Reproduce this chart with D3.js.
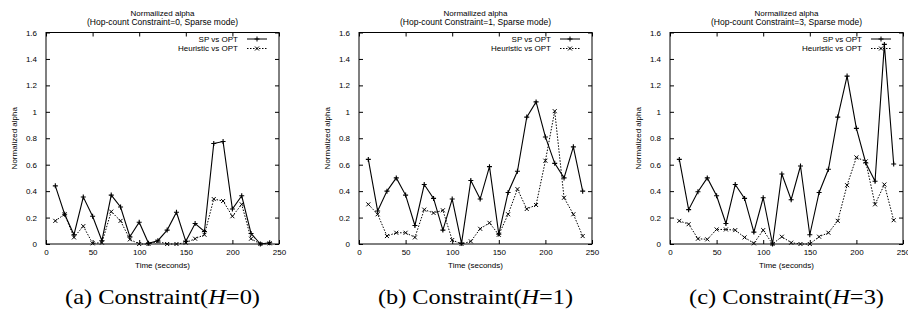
<!DOCTYPE html>
<html>
<head>
<meta charset="utf-8">
<script src="https://cdn.jsdelivr.net/npm/d3@7"></script>
<style>
  html, body { margin: 0; padding: 0; background: #fff; }
  svg { display: block; }
  text { font-family: "Liberation Sans", Arial, sans-serif; fill: #000; }
</style>
</head>
<body>
<svg id="chart" width="908" height="325"></svg>
<script>
// ---------------- data ----------------
const times = [10, 20, 30, 40, 50, 60, 70, 80, 90, 100, 110, 120, 130, 140, 150, 160, 170, 180, 190, 200, 210, 220, 230, 240];

const spH0   = [0.44, 0.225, 0.07, 0.355, 0.21, 0.025, 0.37, 0.28, 0.055, 0.165, 0.005, 0.025, 0.105, 0.24, 0.02, 0.155, 0.095, 0.76, 0.775, 0.265, 0.365, 0.08, 0.0, 0.01];
const heurH0 = [0.175, 0.225, 0.05, 0.135, 0.005, 0.01, 0.245, 0.175, 0.035, 0.0, 0.0, 0.02, 0.0, 0.0, 0.01, 0.04, 0.07, 0.34, 0.325, 0.21, 0.3, 0.04, 0.0, 0.005];

const spH1   = [0.64, 0.25, 0.40, 0.50, 0.37, 0.14, 0.45, 0.345, 0.105, 0.34, 0.005, 0.48, 0.34, 0.585, 0.075, 0.39, 0.55, 0.96, 1.075, 0.81, 0.61, 0.50, 0.735, 0.40];
const heurH1 = [0.30, 0.225, 0.06, 0.085, 0.085, 0.05, 0.26, 0.235, 0.255, 0.03, 0.0, 0.02, 0.115, 0.16, 0.07, 0.225, 0.415, 0.265, 0.295, 0.63, 1.005, 0.35, 0.225, 0.06];

const spH3   = [0.64, 0.26, 0.395, 0.50, 0.365, 0.155, 0.45, 0.345, 0.09, 0.35, 0.0, 0.53, 0.335, 0.59, 0.07, 0.39, 0.565, 0.96, 1.27, 0.875, 0.615, 0.475, 1.51, 0.605];
const heurH3 = [0.175, 0.15, 0.04, 0.035, 0.11, 0.11, 0.105, 0.05, 0.005, 0.105, 0.0, 0.055, 0.01, 0.0, 0.0, 0.055, 0.085, 0.175, 0.445, 0.655, 0.625, 0.30, 0.45, 0.18];

const xTicks = [0, 50, 100, 150, 200, 250];
const yTicks = [0, 0.2, 0.4, 0.6, 0.8, 1, 1.2, 1.4, 1.6];
const yTickLabels = ["0", "0.2", "0.4", "0.6", "0.8", "1", "1.2", "1.4", "1.6"];

const seriesNames = ["SP vs OPT", "Heuristic vs OPT"];
const titleLine1 = "Normailized alpha";
const titleLine2 = ["(Hop-count Constraint=0, Sparse mode)", "(Hop-count Constraint=1, Sparse mode)", "(Hop-count Constraint=3, Sparse mode)"];
const xLabel = "Time (seconds)";
const yLabel = "Normalized alpha";
const captionPrefix = ["(a) Constraint(", "(b) Constraint(", "(c) Constraint("];
const captionH = ["0", "1", "3"];

const panels = [
  { sp: spH0, heur: heurH0, left: 46 },
  { sp: spH1, heur: heurH1, left: 359 },
  { sp: spH3, heur: heurH3, left: 670 }
];

// ---------------- layout ----------------
const plotW = 233, plotTop = 32.5, plotBottom = 244;
const svg = d3.select("#chart");

panels.forEach((p, i) => {
  const x = d3.scaleLinear().domain([0, 250]).range([p.left, p.left + plotW]);
  const y = d3.scaleLinear().domain([0, 1.6]).range([plotBottom, plotTop]);
  const g = svg.append("g");
  const cx = p.left + plotW / 2;

  // axes (inward ticks, mirrored)
  const fmtY = (d) => yTickLabels[yTicks.indexOf(d)];
  const axB = g.append("g").attr("transform", `translate(0,${plotBottom})`)
    .call(d3.axisBottom(x).tickValues(xTicks).tickSizeInner(-4).tickSizeOuter(0).tickPadding(5));
  const axT = g.append("g").attr("transform", `translate(0,${plotTop})`)
    .call(d3.axisTop(x).tickValues(xTicks).tickSizeInner(-4).tickSizeOuter(0).tickFormat(""));
  const axL = g.append("g").attr("transform", `translate(${p.left},0)`)
    .call(d3.axisLeft(y).tickValues(yTicks).tickSizeInner(-4).tickSizeOuter(0).tickPadding(9).tickFormat(fmtY));
  const axR = g.append("g").attr("transform", `translate(${p.left + plotW},0)`)
    .call(d3.axisRight(y).tickValues(yTicks).tickSizeInner(-4).tickSizeOuter(0).tickFormat(""));
  [axB, axT, axL, axR].forEach(a => {
    a.select(".domain").remove();
    a.selectAll("line").attr("stroke", "#000").attr("stroke-width", 1);
    a.selectAll("text").attr("font-size", 8).attr("font-family", "Liberation Sans, Arial, sans-serif").attr("fill", "#000");
  });

  // frame
  g.append("rect").attr("x", p.left).attr("y", plotTop)
    .attr("width", plotW).attr("height", plotBottom - plotTop)
    .attr("fill", "none").attr("stroke", "#000").attr("stroke-width", 1);

  const line = d3.line().x((d, k) => x(times[k])).y(d => y(d));

  // SP series
  g.append("path").datum(p.sp).attr("d", line)
    .attr("fill", "none").attr("stroke", "#000").attr("stroke-width", 1.1);
  g.append("g").selectAll("path").data(p.sp).join("path")
    .attr("d", (d, k) => { const px = x(times[k]), py = y(d); return `M${px-2.5},${py}H${px+2.5}M${px},${py-2.5}V${py+2.5}`; })
    .attr("stroke", "#000").attr("stroke-width", 1.1);

  // Heuristic series
  g.append("path").datum(p.heur).attr("d", line)
    .attr("fill", "none").attr("stroke", "#000").attr("stroke-width", 1).attr("stroke-dasharray", "1.5,1.5");
  g.append("g").selectAll("path").data(p.heur).join("path")
    .attr("d", (d, k) => { const px = x(times[k]), py = y(d); return `M${px-2},${py-2}L${px+2},${py+2}M${px-2},${py+2}L${px+2},${py-2}`; })
    .attr("stroke", "#000").attr("stroke-width", 1);

  // legend
  const right = p.left + plotW;
  const legRows = [{ name: seriesNames[0], ty: 41.5, ly: 39, dash: null, mark: "plus" },
                   { name: seriesNames[1], ty: 51, ly: 48.5, dash: "1.5,1.5", mark: "x" }];
  legRows.forEach(r => {
    g.append("text").attr("x", right - 41).attr("y", r.ty).attr("text-anchor", "end")
      .attr("font-size", 8).text(r.name);
    g.append("line").attr("x1", right - 32).attr("x2", right - 12).attr("y1", r.ly).attr("y2", r.ly)
      .attr("stroke", "#000").attr("stroke-width", 1).attr("stroke-dasharray", r.dash);
    const mx = right - 22, my = r.ly;
    g.append("path").attr("d", r.mark === "plus"
        ? `M${mx-2.5},${my}H${mx+2.5}M${mx},${my-2.5}V${my+2.5}`
        : `M${mx-2},${my-2}L${mx+2},${my+2}M${mx-2},${my+2}L${mx+2},${my-2}`)
      .attr("stroke", "#000").attr("stroke-width", 1);
  });

  // titles
  g.append("text").attr("x", cx).attr("y", 15.5).attr("text-anchor", "middle").attr("font-size", 8).text(titleLine1);
  g.append("text").attr("x", cx).attr("y", 24.5).attr("text-anchor", "middle").attr("font-size", 8.5).text(titleLine2[i]);

  // axis labels
  g.append("text").attr("x", cx).attr("y", 268).attr("text-anchor", "middle").attr("font-size", 8).text(xLabel);
  g.append("text").attr("transform", `translate(${p.left - 29},${(plotTop + plotBottom) / 2}) rotate(-90)`)
    .attr("text-anchor", "middle").attr("font-size", 8).text(yLabel);

  // caption
  const cap = g.append("text").attr("x", cx).attr("y", 304).attr("text-anchor", "middle")
    .attr("font-size", 21).style("font-family", "'Liberation Serif', 'DejaVu Serif', serif")
    .attr("textLength", 195).attr("lengthAdjust", "spacingAndGlyphs");
  cap.append("tspan").text(captionPrefix[i]);
  cap.append("tspan").attr("font-style", "italic").text("H");
  cap.append("tspan").text("=" + captionH[i] + ")");
});
</script>
</body>
</html>
